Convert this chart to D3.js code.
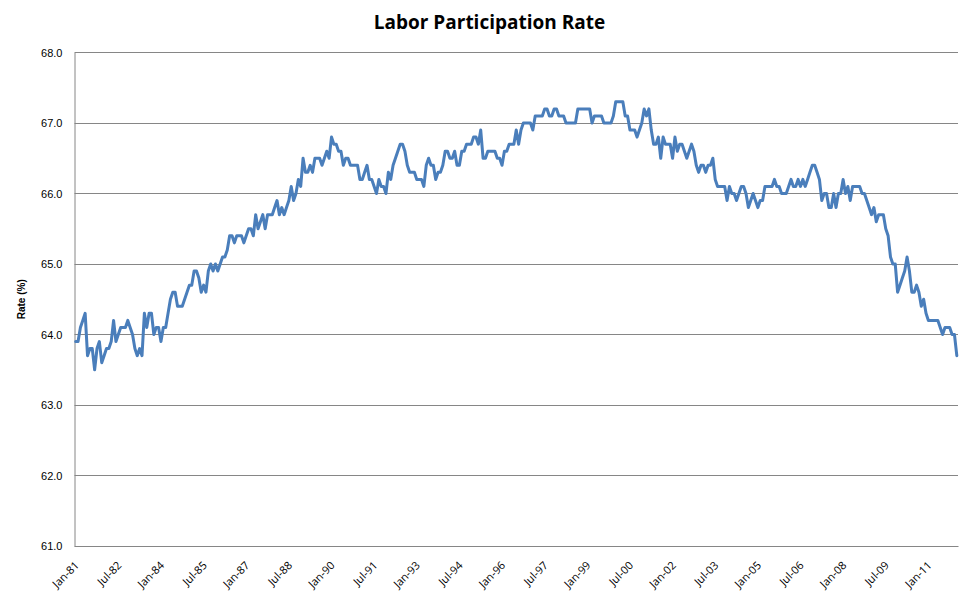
<!DOCTYPE html>
<html>
<head>
<meta charset="utf-8">
<script src="https://cdn.jsdelivr.net/npm/d3@7"></script>
<style>
  body { margin: 0; background: #fff; }
  .chart-title { font-family: "Open Sans", sans-serif; font-weight: 700; font-size: 19px; fill: #000; }
  .axis-title { font-family: "Liberation Sans", Arial, sans-serif; font-weight: 700; font-size: 10px; fill: #000; }
  .y-axis text { font-family: "Liberation Sans", Arial, sans-serif; font-size: 11px; fill: #000; }
  .x-axis text { font-family: "Open Sans", sans-serif; font-size: 11px; fill: #000; }
</style>
</head>
<body>
<div id="chart"></div>
<script>
// monthly labor force participation rate, Jan-1981 .. Jan-2012
const startYear = 1981;
const rate1980s = [
  63.9, 63.9, 64.1, 64.2, 64.3, 63.7, 63.8, 63.8, 63.5, 63.8, 63.9, 63.6, // 1981
  63.7, 63.8, 63.8, 63.9, 64.2, 63.9, 64.0, 64.1, 64.1, 64.1, 64.2, 64.1, // 1982
  64.0, 63.8, 63.7, 63.8, 63.7, 64.3, 64.1, 64.3, 64.3, 64.0, 64.1, 64.1, // 1983
  63.9, 64.1, 64.1, 64.3, 64.5, 64.6, 64.6, 64.4, 64.4, 64.4, 64.5, 64.6, // 1984
  64.7, 64.7, 64.9, 64.9, 64.8, 64.6, 64.7, 64.6, 64.9, 65.0, 64.9, 65.0, // 1985
  64.9, 65.0, 65.1, 65.1, 65.2, 65.4, 65.4, 65.3, 65.4, 65.4, 65.4, 65.3, // 1986
  65.4, 65.5, 65.5, 65.4, 65.7, 65.5, 65.6, 65.7, 65.5, 65.7, 65.7, 65.7, // 1987
  65.8, 65.9, 65.7, 65.8, 65.7, 65.8, 65.9, 66.1, 65.9, 66.0, 66.2, 66.1, // 1988
  66.5, 66.3, 66.3, 66.4, 66.3, 66.5, 66.5, 66.5, 66.4, 66.5, 66.6, 66.5  // 1989
];
const rate1990s = [
  66.8, 66.7, 66.7, 66.6, 66.6, 66.4, 66.5, 66.5, 66.4, 66.4, 66.4, 66.4, // 1990
  66.2, 66.2, 66.3, 66.4, 66.2, 66.2, 66.1, 66.0, 66.2, 66.1, 66.1, 66.0, // 1991
  66.3, 66.2, 66.4, 66.5, 66.6, 66.7, 66.7, 66.6, 66.4, 66.3, 66.3, 66.3, // 1992
  66.2, 66.2, 66.2, 66.1, 66.4, 66.5, 66.4, 66.4, 66.2, 66.3, 66.3, 66.4, // 1993
  66.6, 66.6, 66.5, 66.5, 66.6, 66.4, 66.4, 66.6, 66.6, 66.7, 66.7, 66.7, // 1994
  66.8, 66.8, 66.7, 66.9, 66.5, 66.5, 66.6, 66.6, 66.6, 66.6, 66.5, 66.5, // 1995
  66.4, 66.6, 66.6, 66.7, 66.7, 66.7, 66.9, 66.7, 66.9, 67.0, 67.0, 67.0, // 1996
  67.0, 66.9, 67.1, 67.1, 67.1, 67.1, 67.2, 67.2, 67.1, 67.1, 67.2, 67.2, // 1997
  67.1, 67.1, 67.1, 67.0, 67.0, 67.0, 67.0, 67.0, 67.2, 67.2, 67.2, 67.2, // 1998
  67.2, 67.2, 67.0, 67.1, 67.1, 67.1, 67.1, 67.0, 67.0, 67.0, 67.0, 67.1  // 1999
];
const rate2000s = [
  67.3, 67.3, 67.3, 67.3, 67.1, 67.1, 66.9, 66.9, 66.9, 66.8, 66.9, 67.0, // 2000
  67.2, 67.1, 67.2, 66.9, 66.7, 66.7, 66.8, 66.5, 66.8, 66.7, 66.7, 66.7, // 2001
  66.5, 66.8, 66.6, 66.7, 66.7, 66.6, 66.5, 66.6, 66.7, 66.6, 66.4, 66.3, // 2002
  66.4, 66.4, 66.3, 66.4, 66.4, 66.5, 66.2, 66.1, 66.1, 66.1, 66.1, 65.9, // 2003
  66.1, 66.0, 66.0, 65.9, 66.0, 66.1, 66.1, 66.0, 65.8, 65.9, 66.0, 65.9, // 2004
  65.8, 65.9, 65.9, 66.1, 66.1, 66.1, 66.1, 66.2, 66.1, 66.1, 66.0, 66.0, // 2005
  66.0, 66.1, 66.2, 66.1, 66.1, 66.2, 66.1, 66.2, 66.1, 66.2, 66.3, 66.4, // 2006
  66.4, 66.3, 66.2, 65.9, 66.0, 66.0, 65.8, 65.8, 66.0, 65.8, 66.0, 66.0, // 2007
  66.2, 66.0, 66.1, 65.9, 66.1, 66.1, 66.1, 66.1, 66.0, 66.0, 65.9, 65.8, // 2008
  65.7, 65.8, 65.6, 65.7, 65.7, 65.7, 65.5, 65.4, 65.1, 65.0, 65.0, 64.6  // 2009
];
const rate2010s = [
  64.7, 64.8, 64.9, 65.1, 64.9, 64.6, 64.6, 64.7, 64.6, 64.4, 64.5, 64.3, // 2010
  64.2, 64.2, 64.2, 64.2, 64.2, 64.1, 64.0, 64.1, 64.1, 64.1, 64.0, 64.0, // 2011
  63.7                                                                      // 2012
];
const yTicks = [61, 62, 63, 64, 65, 66, 67, 68];
const xTickLabels = ['Jan-81', 'Jul-82', 'Jan-84', 'Jul-85', 'Jan-87', 'Jul-88', 'Jan-90',
  'Jul-91', 'Jan-93', 'Jul-94', 'Jan-96', 'Jul-97', 'Jan-99', 'Jul-00', 'Jan-02',
  'Jul-03', 'Jan-05', 'Jul-06', 'Jan-08', 'Jul-09', 'Jan-11'];

const rates = [...rate1980s, ...rate1990s, ...rate2000s, ...rate2010s];
const monthNames = ['Jan', 'Feb', 'Mar', 'Apr', 'May', 'Jun', 'Jul', 'Aug', 'Sep', 'Oct', 'Nov', 'Dec'];
const data = rates.map((v, i) => {
  const yr = startYear + Math.floor(i / 12);
  return { month: monthNames[i % 12] + '-' + String(yr % 100).padStart(2, '0'), rate: v };
});

const width = 979, height = 608;
const margin = { top: 52.5, right: 21, bottom: 62, left: 74.5 };
const innerW = width - margin.left - margin.right;
const innerH = height - margin.top - margin.bottom;

const svg = d3.select('#chart').append('svg')
  .attr('width', width)
  .attr('height', height);

const chart = svg.append('g')
  .attr('transform', `translate(${margin.left},${margin.top})`);

const xScale = d3.scaleBand()
  .domain(data.map(d => d.month))
  .range([0, innerW]);
const xPos = m => xScale(m) + xScale.bandwidth() / 2;

const yScale = d3.scaleLinear()
  .domain([61, 68])
  .range([innerH, 0]);

// gridlines
chart.append('g')
  .selectAll('line')
  .data(yTicks)
  .join('line')
  .attr('x1', 0)
  .attr('x2', innerW)
  .attr('y1', d => Math.round(yScale(d)))
  .attr('y2', d => Math.round(yScale(d)))
  .attr('stroke', '#868686')
  .attr('stroke-width', 1);

// y axis
const yAxisG = chart.append('g')
  .attr('class', 'axis y-axis')
  .call(d3.axisLeft(yScale).tickValues(yTicks).tickFormat(d3.format('.1f')).tickSize(0).tickPadding(12));
yAxisG.select('.domain').attr('stroke', '#868686');

// x axis: label every 18 months, no tick marks
const xAxisG = chart.append('g')
  .attr('class', 'axis x-axis')
  .attr('transform', `translate(0,${innerH})`)
  .call(d3.axisBottom(xScale).tickValues(xTickLabels).tickSize(0).tickFormat(d => d));
xAxisG.select('.domain').attr('stroke', '#868686');
xAxisG.selectAll('.tick text')
  .attr('text-anchor', 'end')
  .attr('dy', 0)
  .attr('y', 0)
  .attr('transform', 'translate(4,20) rotate(-45)');

// series line
const line = d3.line()
  .x(d => xPos(d.month))
  .y(d => yScale(d.rate));

chart.append('path')
  .datum(data)
  .attr('fill', 'none')
  .attr('stroke', '#4A7EBB')
  .attr('stroke-width', 3)
  .attr('stroke-linejoin', 'round')
  .attr('stroke-linecap', 'round')
  .attr('d', line);

// titles
svg.append('text')
  .attr('class', 'chart-title')
  .attr('x', width / 2)
  .attr('y', 29)
  .attr('text-anchor', 'middle')
  .text('Labor Participation Rate');

svg.append('text')
  .attr('class', 'axis-title')
  .attr('transform', `translate(25,${margin.top + innerH / 2}) rotate(-90)`)
  .attr('text-anchor', 'middle')
  .text('Rate (%)');
</script>
</body>
</html>
